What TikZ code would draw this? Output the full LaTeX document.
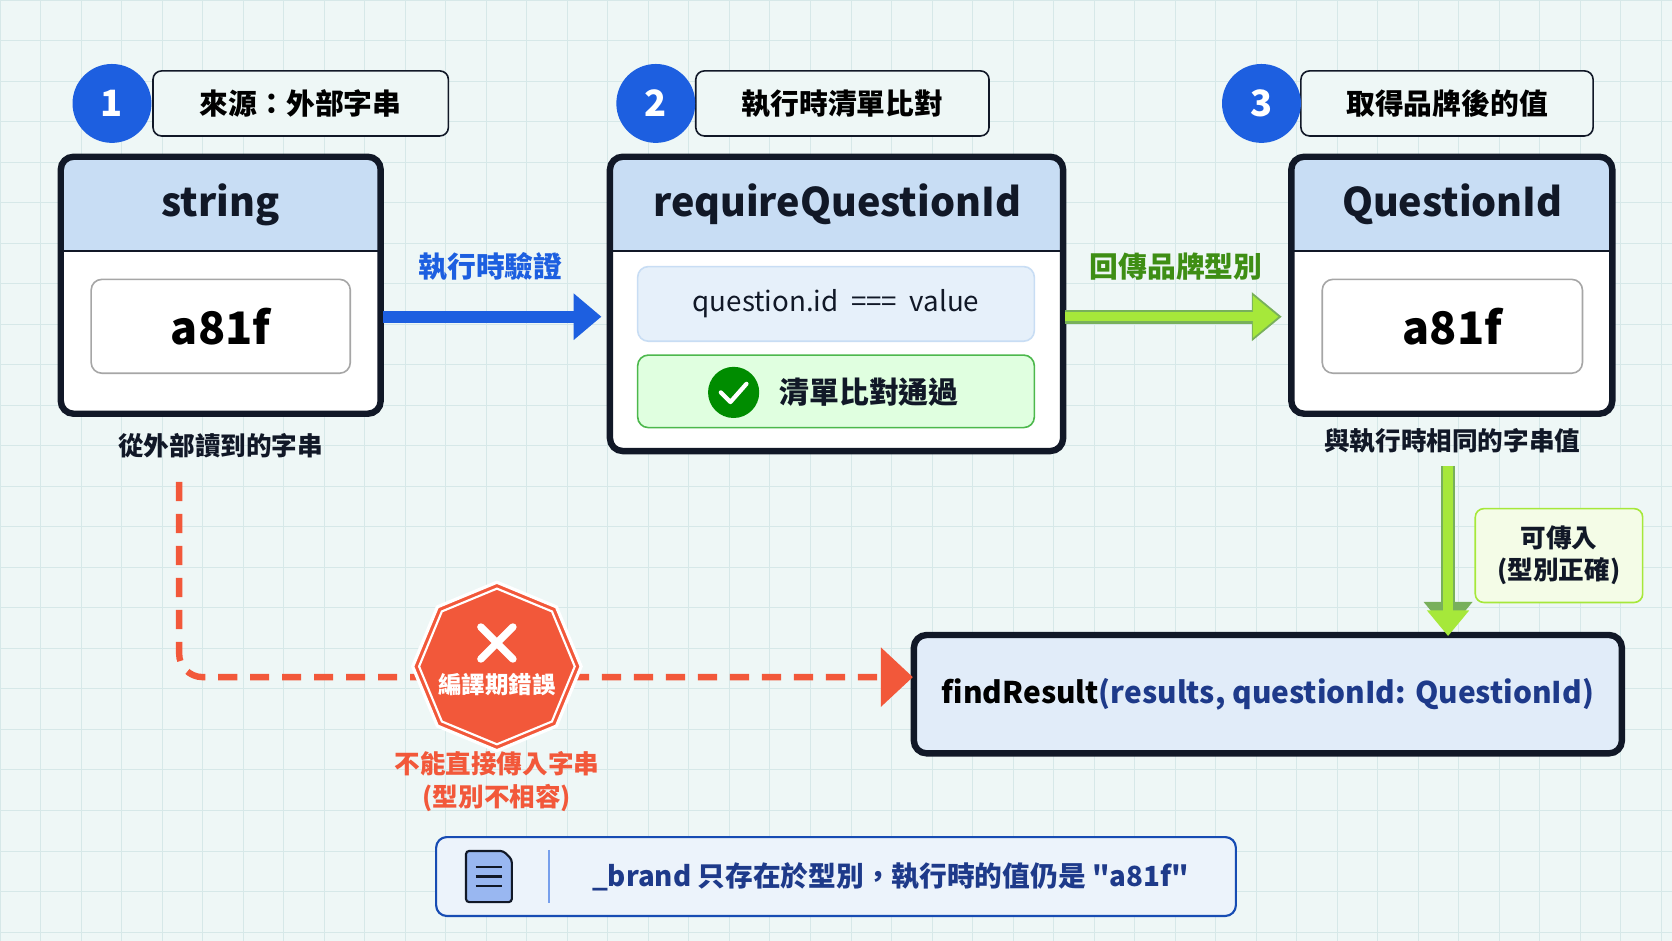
\documentclass[tikz,border=0pt]{standalone}
\usepackage{fontspec}
\setmainfont{Noto Sans CJK TC}
\usetikzlibrary{shapes.geometric,arrows.meta,positioning}
\definecolor{bg}{HTML}{EEF7F6}
\definecolor{gridc}{HTML}{D6E8E8}
\definecolor{ink}{HTML}{111827}
\definecolor{badgeblue}{HTML}{1D5FE0}
\definecolor{head}{HTML}{C8DDF4}
\definecolor{lime}{HTML}{A6E83A}
\definecolor{limedark}{HTML}{3E8E14}
\definecolor{errred}{HTML}{F2583A}
\definecolor{navy}{HTML}{1E3A8A}
\tikzset{
  badge/.style={circle, fill=badgeblue, text=white, minimum size=74pt, font=\bfseries\fontsize{34}{34}\selectfont},
  tag/.style={draw=ink, line width=1.5pt, rounded corners=8pt, fill=bg, font=\bfseries\fontsize{27}{27}\selectfont},
  card/.style={draw=ink, line width=6pt, rounded corners=12pt, fill=white},
  value/.style={draw=gray!70, line width=1.5pt, rounded corners=10pt, fill=white, font=\bfseries\fontsize{42}{42}\selectfont},
  caption/.style={font=\bfseries\fontsize{24}{24}\selectfont, text=ink},
  elabel/.style={font=\bfseries\fontsize{27}{27}\selectfont},
  headtxt/.style={font=\bfseries\fontsize{37}{37}\selectfont, text=ink}
}
\begin{document}
\begin{tikzpicture}[x=1pt, y=-1pt]
  \fill[bg] (0,0) rectangle (1568,882);
  \useasboundingbox (0,0) rectangle (1568,882);
  \foreach \g in {0,38,...,1568}{
    \draw[gridc, line width=0.8pt] (\g,0) -- (\g,882);
  }
  \foreach \g in {0,38,...,882}{
    \draw[gridc, line width=0.8pt] (0,\g) -- (1568,\g);
  }
  % step tags
  \node[tag, minimum width=277pt, minimum height=61pt] (tagA) at (282,97) {來源：外部字串};
  \node[badge] (stepA) at (105,97) {1};
  \node[tag, minimum width=275pt, minimum height=61pt] (tagB) at (790,97) {執行時清單比對};
  \node[badge] (stepB) at (615,97) {2};
  \node[tag, minimum width=274pt, minimum height=61pt] (tagC) at (1357,97) {取得品牌後的值};
  \node[badge] (stepC) at (1183,97) {3};
  % string card
  \begin{scope}
    \clip[rounded corners=12pt] (57,147) rectangle (357,388);
    \fill[white] (57,147) rectangle (357,388);
    \fill[head] (57,147) rectangle (357,235);
  \end{scope}
  \draw[ink, line width=2pt] (57,235) -- (357,235);
  \draw[card, fill=none] (57,147) rectangle (357,388);
  \node[headtxt] (strHead) at (207,192) {string};
  \node[value, minimum width=243pt, minimum height=88pt] (strVal) at (207,306) {a81f};
  \node[caption] (strCap) at (207,418) {從外部讀到的字串};
  % requireQuestionId card
  \begin{scope}
    \clip[rounded corners=12pt] (572,147) rectangle (997,423);
    \fill[white] (572,147) rectangle (997,423);
    \fill[head] (572,147) rectangle (997,235);
  \end{scope}
  \draw[ink, line width=2pt] (572,235) -- (997,235);
  \draw[card, fill=none] (572,147) rectangle (997,423);
  \node[headtxt] (reqHead) at (785,192) {requireQuestionId};
  \node[draw=head, line width=1.5pt, rounded corners=10pt, fill=head!45, minimum width=372pt, minimum height=70pt,
        font=\fontsize{26}{26}\selectfont, text=ink] (reqCheck) at (784,285) {question.id\ \ ===\ \ value};
  \node[draw=green!60!black!70, line width=1.5pt, rounded corners=10pt, fill=green!12, minimum width=372pt, minimum height=68pt] (reqPass) at (784,367) {};
  \node[circle, fill=green!55!black, minimum size=48pt, inner sep=0pt] (passIcon) at (688,368) {};
  \draw[white, line width=4pt, line cap=round, line join=round] (676,368) -- (685,377) -- (700,360);
  \node[font=\bfseries\fontsize{28}{28}\selectfont, text=ink] (passText) at (815,368) {清單比對通過};
  % QuestionId card
  \begin{scope}
    \clip[rounded corners=12pt] (1211,147) rectangle (1512,388);
    \fill[white] (1211,147) rectangle (1512,388);
    \fill[head] (1211,147) rectangle (1512,235);
  \end{scope}
  \draw[ink, line width=2pt] (1211,235) -- (1512,235);
  \draw[card, fill=none] (1211,147) rectangle (1512,388);
  \node[headtxt] (qidHead) at (1362,192) {QuestionId};
  \node[value, minimum width=244pt, minimum height=88pt] (qidVal) at (1362,306) {a81f};
  \node[caption] (qidCap) at (1362,414) {與執行時相同的字串值};
  % arrows between cards
  \coordinate (blueStart) at (359,297);
  \coordinate (blueEnd) at (564,297);
  \draw[badgeblue, line width=11pt, -{Triangle[length=26pt, width=42pt]}] (blueStart) -- (blueEnd);
  \node[elabel, text=badgeblue] (blueLbl) at (460,250) {執行時驗證};
  \coordinate (limeStart) at (999,297);
  \coordinate (limeEnd) at (1202,297);
  \draw[limedark!70, line width=13pt, -{Triangle[length=28pt, width=44pt]}] (limeStart) -- (limeEnd);
  \draw[lime, line width=9pt, -{Triangle[length=24pt, width=38pt]}] (limeStart) -- ([xshift=-3pt]limeEnd);
  \node[elabel, text=limedark] (limeLbl) at (1103,250) {回傳品牌型別};
  % findResult
  \node[draw=ink, line width=6pt, rounded corners=12pt, fill=head!55, minimum width=664pt, minimum height=111pt,
        font=\bfseries\fontsize{28}{28}\selectfont] (call) at (1189,651)
        {findResult\textcolor{navy}{(results,\ questionId: QuestionId)}};
  \coordinate (downStart) at (1358,437);
  \draw[limedark!70, line width=13pt, -{Triangle[length=28pt, width=44pt]}] (downStart) -- (call.north -| downStart);
  \draw[lime, line width=9pt, -{Triangle[length=24pt, width=38pt]}] (downStart) -- ([yshift=-4pt]call.north -| downStart);
  \node[draw=lime, line width=1.5pt, rounded corners=8pt, fill=lime!12, minimum width=157pt, minimum height=88pt, align=center,
        font=\bfseries\fontsize{24}{30}\selectfont, text=ink] (okTag) at (1462,521) {可傳入\\(型別正確)};
  % compile error path
  \coordinate (errStart) at (168,452);
  \draw[errred, line width=6pt, dash pattern=on 18pt off 12pt, rounded corners=22pt] (errStart) -- (168,635) -- (826,635);
  \fill[errred] (826,607) -- (856,635) -- (826,663) -- cycle;
  \node[regular polygon, regular polygon sides=8, shape border rotate=22.5, minimum size=158pt, fill=errred,
        draw=white, line width=3pt] (stop) at (466,625) {};
  \node[regular polygon, regular polygon sides=8, shape border rotate=22.5, minimum size=146pt, draw=white, line width=2pt] at (stop) {};
  \draw[white, line width=7pt, line cap=round] (451,588) -- (481,618) (481,588) -- (451,618);
  \node[font=\bfseries\fontsize{22}{22}\selectfont, text=white] (stopText) at (466,642) {編譯期錯誤};
  \node[font=\bfseries\fontsize{24}{31}\selectfont, text=errred, align=center] (errCap) at (466,733) {不能直接傳入字串\\(型別不相容)};
  % note
  \node[draw=badgeblue!80!black, line width=2pt, rounded corners=10pt, fill=head!35, minimum width=750pt, minimum height=74pt] (note) at (784,822) {};
  \draw[ink, line width=2pt, fill=badgeblue!45, rounded corners=3pt] (437,798) -- (472,798) -- (480,806) -- (480,846) -- (437,846) -- cycle;
  \foreach \ly in {813,822,831}{
    \draw[ink, line width=2pt] (446,\ly) -- (471,\ly);
  }
  \draw[badgeblue!60, line width=1.5pt] (515,797) -- (515,847);
  \node[font=\bfseries\fontsize{26}{26}\selectfont, text=navy] (noteText) at (835,822) {\_brand 只存在於型別，執行時的值仍是 \textquotedbl a81f\textquotedbl};
\end{tikzpicture}
\end{document}
